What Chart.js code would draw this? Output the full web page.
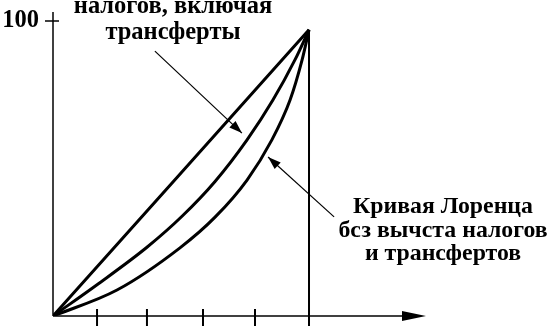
<!DOCTYPE html>
<html>
<head>
<meta charset="utf-8">
<script src="https://cdn.jsdelivr.net/npm/chart.js@4"></script>
<style>
  html, body { margin: 0; padding: 0; background: #fff; }
  #wrap { position: relative; width: 555px; height: 326px; overflow: hidden; }
  #chart { position: absolute; left: 0; top: 0; }
  .lbl {
    position: absolute;
    font-family: "Liberation Serif", "Times New Roman", Tinos, "DejaVu Serif", serif;
    font-size: 24.5px;
    font-weight: bold;
    color: #000;
    text-align: center;
    white-space: nowrap;
  }
  #topLabel { left: 53px; width: 240px; top: -8px; line-height: 26px; }
  #rightLabel { left: 333px; width: 220px; top: 194px; line-height: 23.5px; font-size: 23.8px; }
  #yLabel { left: 0; width: 39px; top: 6px; line-height: 26px; text-align: right; }
</style>
</head>
<body>
<div id="wrap">
  <canvas id="chart" width="555" height="326"></canvas>
  <div class="lbl" id="topLabel"></div>
  <div class="lbl" id="rightLabel"></div>
  <div class="lbl" id="yLabel"></div>
</div>
<script>
// Equality line, Lorenz curve after taxes (incl. transfers), Lorenz curve before taxes
const equalityX = [0, 100];
const equalityY = [0, 97];
const afterTaxX = [0, 17.2, 36.7, 50.4, 63.3, 75.8, 85.9, 94.5, 100];
const afterTaxY = [0, 10.6, 23.3, 33.8, 45.6, 59.7, 73.2, 86.8, 97];
const beforeTaxX = [0, 25.0, 49.6, 63.3, 75.8, 85.5, 92.6, 97.3, 100];
const beforeTaxY = [0, 8.8, 23.1, 33.5, 46.1, 59.7, 73.2, 86.8, 97];

// axis ticks
const xTicks = [17.2, 36.7, 58.6, 78.9, 100];
const yTicks = [100];
const yTickLabels = ['100'];

// labels and their pointer arrows (start -> tip, in data units)
const topLabel = ['налогов, включая', 'трансферты'];
const rightLabel = ['Кривая Лоренца', 'бсз вычста налогов', 'и трансфертов'];
const topPointer = [[39.8, 89.8], [73.8, 62.0]];
const rightPointer = [[109.8, 33.6], [84.0, 53.9]];

document.getElementById('topLabel').innerHTML = topLabel.join('<br>');
document.getElementById('rightLabel').innerHTML = rightLabel.join('<br>');
document.getElementById('yLabel').textContent = yTickLabels[0];

const toPoints = (xs, ys) => xs.map((x, i) => ({ x: x, y: ys[i] }));

const drawArrowHead = (ctx, x1, y1, x2, y2, len, half) => {
    const a = Math.atan2(y2 - y1, x2 - x1);
    ctx.beginPath();
    ctx.moveTo(x2, y2);
    ctx.lineTo(x2 - len * Math.cos(a) + half * Math.sin(a), y2 - len * Math.sin(a) - half * Math.cos(a));
    ctx.lineTo(x2 - len * Math.cos(a) - half * Math.sin(a), y2 - len * Math.sin(a) + half * Math.cos(a));
    ctx.closePath();
    ctx.fill();
};

const axesPlugin = {
    id: 'axesPlugin',
    afterDraw(chart) {
        const ctx = chart.ctx;
        const xs = chart.scales.x;
        const ys = chart.scales.y;
        const area = chart.chartArea;
        const x0 = xs.getPixelForValue(0);
        const y0 = ys.getPixelForValue(0);
        ctx.save();
        ctx.strokeStyle = '#000';
        ctx.fillStyle = '#000';

        // y axis
        ctx.lineWidth = 1.5;
        ctx.beginPath();
        ctx.moveTo(x0, area.top);
        ctx.lineTo(x0, y0);
        ctx.stroke();

        // x axis with arrow
        ctx.beginPath();
        ctx.moveTo(x0, y0);
        ctx.lineTo(area.right - 20, y0);
        ctx.stroke();
        drawArrowHead(ctx, x0, y0, area.right, y0, 24, 5);

        // x ticks
        xTicks.forEach(v => {
            const px = xs.getPixelForValue(v);
            ctx.lineWidth = 2;
            ctx.beginPath();
            ctx.moveTo(px, y0 - 7);
            ctx.lineTo(px, y0 + 10);
            ctx.stroke();
        });

        // vertical line at 100 %
        const px100 = xs.getPixelForValue(100);
        ctx.lineWidth = 2;
        ctx.beginPath();
        ctx.moveTo(px100, ys.getPixelForValue(equalityY[1]));
        ctx.lineTo(px100, chart.height);
        ctx.stroke();

        // y ticks
        yTicks.forEach(v => {
            const py = ys.getPixelForValue(v);
            ctx.lineWidth = 1.5;
            ctx.beginPath();
            ctx.moveTo(x0 - 8, py);
            ctx.lineTo(x0 + 6, py);
            ctx.stroke();
        });

        // pointer arrows
        [topPointer, rightPointer].forEach(p => {
            const sx = xs.getPixelForValue(p[0][0]), sy = ys.getPixelForValue(p[0][1]);
            const tx = xs.getPixelForValue(p[1][0]), ty = ys.getPixelForValue(p[1][1]);
            ctx.lineWidth = 1.2;
            ctx.beginPath();
            ctx.moveTo(sx, sy);
            ctx.lineTo(tx, ty);
            ctx.stroke();
            drawArrowHead(ctx, sx, sy, tx, ty, 13, 4.5);
        });
        ctx.restore();
    }
};

const lineStyle = {
    borderColor: '#000',
    borderWidth: 3,
    pointRadius: 0,
    fill: false,
    cubicInterpolationMode: 'monotone'
};

new Chart(document.getElementById('chart'), {
    type: 'line',
    data: {
        datasets: [
            Object.assign({ label: 'Равенство', data: toPoints(equalityX, equalityY) }, lineStyle),
            Object.assign({ label: 'После налогов', data: toPoints(afterTaxX, afterTaxY) }, lineStyle),
            Object.assign({ label: 'До налогов', data: toPoints(beforeTaxX, beforeTaxY) }, lineStyle)
        ]
    },
    options: {
        responsive: false,
        animation: false,
        devicePixelRatio: 1,
        layout: { padding: { left: 53, right: 129, top: 12, bottom: 10 } },
        scales: {
            x: { type: 'linear', min: 0, max: 145.7, display: false },
            y: { type: 'linear', min: 0, max: 103.05, display: false }
        },
        plugins: {
            legend: { display: false },
            tooltip: { enabled: false }
        }
    },
    plugins: [axesPlugin]
});
</script>
</body>
</html>
